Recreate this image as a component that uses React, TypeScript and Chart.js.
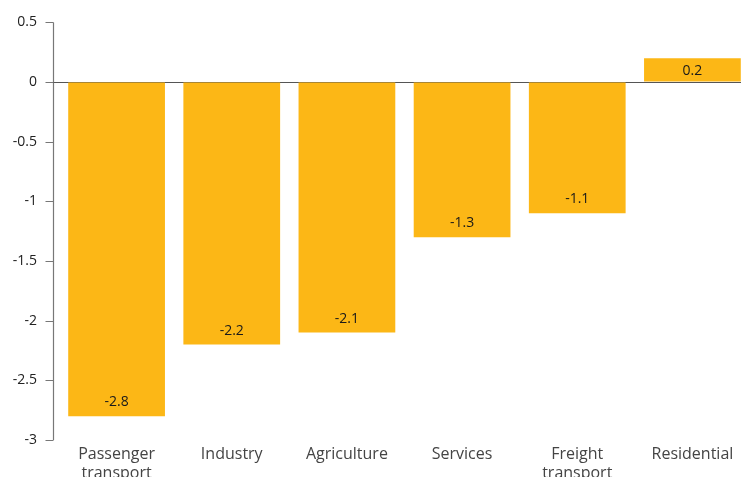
import React, { useEffect, useRef } from "react";
import { Chart, registerables } from "chart.js";

Chart.register(...registerables);

const categories: (string | string[])[] = [
  ["Passenger", "transport"],
  "Industry",
  "Agriculture",
  "Services",
  ["Freight", "transport"],
  "Residential",
];
const values: number[] = [-2.8, -2.2, -2.1, -1.3, -1.1, 0.2];
const valueLabels: string[] = ["-2.8", "-2.2", "-2.1", "-1.3", "-1.1", "0.2"];
const yTicks: number[] = [0.5, 0, -0.5, -1, -1.5, -2, -2.5, -3];

const FONT = "'Open Sans', sans-serif";
const AXIS_GAP = 6;

const axisPlugin = {
  id: "customAxis",
  beforeDatasetsDraw(chart: any) {
    const ctx = chart.ctx;
    const ya = chart.scales.y;
    const { left, top, bottom } = chart.chartArea;
    const ax = Math.round(left - AXIS_GAP) + 0.5;
    ctx.save();
    ctx.lineWidth = 1.2;
    ctx.strokeStyle = "#777";
    ctx.beginPath();
    ctx.moveTo(ax, top);
    ctx.lineTo(ax, bottom);
    yTicks.forEach((v) => {
      const py = Math.round(ya.getPixelForValue(v)) + 0.5;
      ctx.moveTo(ax - 8, py);
      ctx.lineTo(ax, py);
    });
    ctx.stroke();
    const zy = Math.round(ya.getPixelForValue(0)) + 0.5;
    ctx.strokeStyle = "#555";
    ctx.beginPath();
    ctx.moveTo(ax, zy);
    ctx.lineTo(741, zy);
    ctx.stroke();
    ctx.restore();
  },
};

const labelPlugin = {
  id: "barLabels",
  afterDatasetsDraw(chart: any) {
    const ctx = chart.ctx;
    const meta = chart.getDatasetMeta(0);
    ctx.save();
    ctx.font = `14px ${FONT}`;
    ctx.fillStyle = "#1a1a1a";
    ctx.textAlign = "center";
    ctx.textBaseline = "middle";
    meta.data.forEach((bar: any, i: number) => {
      const v = values[i];
      const y = v < 0 ? bar.y - 14 : bar.y + 13;
      ctx.fillText(valueLabels[i], bar.x, y);
    });
    ctx.restore();
  },
};

export default function App() {
  const ref = useRef<HTMLCanvasElement>(null);
  useEffect(() => {
    document.body.style.margin = "0";
    const chart = new Chart(ref.current!, {
      type: "bar",
      data: {
        labels: categories as any,
        datasets: [
          {
            data: values,
            backgroundColor: "#FCB716",
            barPercentage: 0.84,
            categoryPercentage: 1,
          },
        ],
      },
      options: {
        animation: false,
        responsive: false,
        maintainAspectRatio: false,
        layout: { padding: { top: 19, right: 0, left: 0, bottom: 0 } },
        plugins: { legend: { display: false }, tooltip: { enabled: false } },
        scales: {
          x: {
            grid: { display: false },
            border: { display: false },
            ticks: {
              color: "#444",
              font: { family: FONT, size: 16 },
              padding: -3,
              maxRotation: 0,
              autoSkip: false,
            },
            afterFit(scale: any) {
              scale.height = 37;
            },
          },
          y: {
            min: -3,
            max: 0.5,
            afterBuildTicks(scale: any) {
              scale.ticks = yTicks.map((v) => ({ value: v }));
            },
            ticks: {
              color: "#222",
              font: { family: FONT, size: 14 },
              padding: 8 + AXIS_GAP,
              callback: (v: any) => String(v),
            },
            grid: {
              color: "rgba(0,0,0,0)",
              tickColor: "rgba(0,0,0,0)",
              tickLength: 8,
            },
            border: { display: false },
            afterFit(scale: any) {
              scale.width = 53 + AXIS_GAP;
            },
          },
        },
      },
      plugins: [axisPlugin, labelPlugin],
    });
    return () => chart.destroy();
  }, []);
  return (
    <div style={{ width: 745, height: 477, overflow: "hidden" }}>
      <canvas ref={ref} width={750} height={477} style={{ display: "block" }} />
    </div>
  );
}
